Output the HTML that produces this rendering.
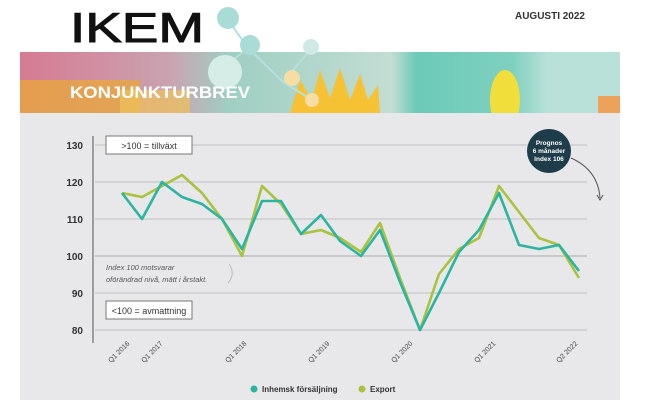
<!DOCTYPE html>
<html><head><meta charset="utf-8"><style>
body{margin:0;width:645px;height:400px;overflow:hidden;background:#fff;font-family:"Liberation Sans",sans-serif}
</style></head><body>
<svg width="645" height="400" xmlns="http://www.w3.org/2000/svg" style="position:absolute;left:0;top:0">
<defs>
<linearGradient id="b1" x1="0" x2="1" y1="0" y2="0">
<stop offset="0" stop-color="#d77a92"/><stop offset="0.25" stop-color="#c9a3b0"/><stop offset="0.35" stop-color="#9fcfc3"/><stop offset="0.62" stop-color="#c3ddd3"/><stop offset="0.66" stop-color="#6ccab8"/><stop offset="0.82" stop-color="#7fd0bf"/><stop offset="0.88" stop-color="#b9e1d9"/><stop offset="1" stop-color="#b9e1d9"/>
</linearGradient>
</defs>
<text x="70" y="42" font-size="42" font-family="Liberation Sans" fill="#111" stroke="#111" stroke-width="1" textLength="134" lengthAdjust="spacingAndGlyphs">IKEM</text>
<text x="585" y="19" font-size="10" font-weight="bold" fill="#333" text-anchor="end">AUGUSTI 2022</text>
<rect x="20" y="52" width="600" height="61" fill="url(#b1)"/>
<rect x="20" y="80" width="120" height="33" fill="#e9a640" opacity="0.8"/>
<rect x="120" y="90" width="70" height="23" fill="#efc25a" opacity="0.7"/>
<path d="M290 113 L300 80 L312 100 L320 70 L330 98 L340 68 L350 100 L360 74 L368 100 L378 85 L380 113 Z" fill="#f6c233"/>
<ellipse cx="505" cy="100" rx="15" ry="30" fill="#f2de3a"/>
<rect x="598" y="96" width="22" height="17" fill="#eca25a"/>
<g stroke="#b7e0dc" stroke-width="2" fill="none"><line x1="228" y1="20" x2="248" y2="48"/><line x1="248" y1="48" x2="220" y2="70"/><line x1="248" y1="48" x2="283" y2="82"/><line x1="283" y1="82" x2="310" y2="50"/><line x1="283" y1="82" x2="312" y2="100"/></g>
<circle cx="228" cy="18" r="11" fill="#a9dcd6"/>
<circle cx="250" cy="45" r="10" fill="#a9dcd6"/>
<circle cx="225" cy="72" r="17" fill="#d6ece7"/>
<circle cx="311" cy="47" r="8" fill="#cfe9e5"/>
<circle cx="292" cy="78" r="8" fill="#f5dda4"/>
<circle cx="312" cy="100" r="7" fill="#f5dda4"/>
<text x="70" y="98" font-size="17" font-weight="bold" fill="#fff" textLength="180" lengthAdjust="spacingAndGlyphs">KONJUNKTURBREV</text>
<rect x="20" y="113" width="600" height="287" fill="#e8e8ea"/>
<g stroke="#c8c8cc" stroke-width="1.3">
<line x1="95" y1="145" x2="587" y2="145"/><line x1="95" y1="182" x2="587" y2="182"/><line x1="95" y1="219" x2="587" y2="219"/><line x1="95" y1="256" x2="587" y2="256" stroke="#b4b4b8"/><line x1="95" y1="293" x2="587" y2="293"/><line x1="95" y1="330" x2="587" y2="330"/>
</g>
<line x1="93" y1="136" x2="93" y2="343" stroke="#555" stroke-width="1"/>
<g font-size="10" font-weight="bold" fill="#333" text-anchor="end">
<text x="83" y="149">130</text><text x="83" y="186">120</text><text x="83" y="223">110</text><text x="83" y="260">100</text><text x="83" y="297">90</text><text x="83" y="334">80</text>
</g>
<rect x="106" y="136" width="86" height="18" fill="#fff" stroke="#777"/>
<text x="149" y="149" font-size="9" fill="#333" text-anchor="middle">&gt;100 = tillväxt</text>
<rect x="106" y="301" width="86" height="18" fill="#fff" stroke="#777"/>
<text x="149" y="314" font-size="9" fill="#333" text-anchor="middle">&lt;100 = avmattning</text>
<text x="106" y="270" font-size="7.5" font-style="italic" fill="#555">Index 100 motsvarar</text>
<text x="106" y="282" font-size="7.5" font-style="italic" fill="#555">oförändrad nivå, mätt i årstakt.</text>
<path d="M229 264 Q236 274 228 283" stroke="#bbb" fill="none"/>
<polyline fill="none" stroke="#a9c23f" stroke-width="2.6" stroke-linejoin="round" points="122,193 142,197 162,186 182,175 202,193 222,219 242,256 262,186 281,204 301,234 321,230 340,238 361,252 380,223 400,278 420,330 439,274 459,249 479,238 499,186 519,212 539,238 559,245 579,278"/>
<polyline fill="none" stroke="#2bb5a0" stroke-width="2.6" stroke-linejoin="round" points="122,193 142,219 162,182 182,197 202,204 222,219 242,249 262,201 281,201 301,234 321,215 340,241 361,256 380,230 400,282 420,330 439,293 459,252 479,230 499,193 519,245 539,249 559,245 579,271"/>
<circle cx="549" cy="151" r="22" fill="#1e3c4a"/>
<g font-size="6.5" font-weight="bold" fill="#fff" text-anchor="middle"><text x="549" y="145">Prognos</text><text x="549" y="153">6 månader</text><text x="549" y="161">Index 106</text></g>
<path d="M571 158 Q598 170 600 198" stroke="#555" fill="none"/>
<path d="M597 195 L600 200 L603 195" stroke="#555" fill="none"/>
<g font-size="7" fill="#444" text-anchor="end">
<text transform="translate(130,344) rotate(-45)">Q1 2016</text>
<text transform="translate(163,344) rotate(-45)">Q1 2017</text>
<text transform="translate(247,344) rotate(-45)">Q1 2018</text>
<text transform="translate(330,344) rotate(-45)">Q1 2019</text>
<text transform="translate(413,344) rotate(-45)">Q1 2020</text>
<text transform="translate(496,344) rotate(-45)">Q1 2021</text>
<text transform="translate(578,344) rotate(-45)">Q2 2022</text>
</g>
<circle cx="254" cy="389" r="3.5" fill="#2bb5a0"/>
<text x="262" y="392" font-size="8" font-weight="bold" fill="#333">Inhemsk försäljning</text>
<circle cx="362" cy="389" r="3.5" fill="#a9c23f"/>
<text x="370" y="392" font-size="8" font-weight="bold" fill="#333">Export</text>
</svg>
</body></html>
